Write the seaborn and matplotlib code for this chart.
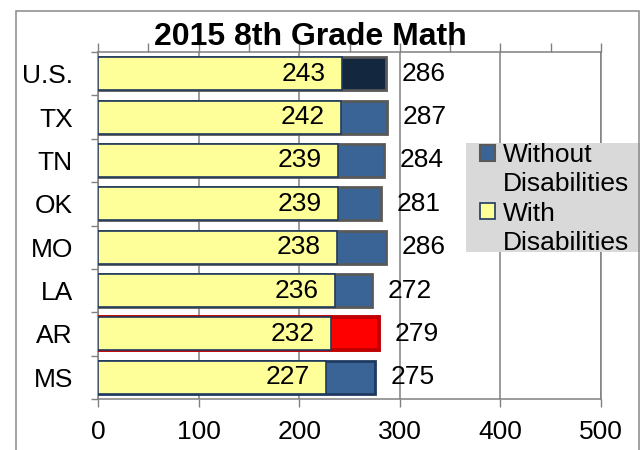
import matplotlib

matplotlib.use("Agg")
import matplotlib.pyplot as plt
import numpy as np
import pandas as pd
import seaborn as sns
from matplotlib.patches import Patch, Rectangle

states = ["U.S.", "TX", "TN", "OK", "MO", "LA", "AR", "MS"]
without_dis = [286, 287, 284, 281, 286, 272, 279, 275]
with_dis = [243, 242, 239, 239, 238, 236, 232, 227]

BLUE = "#3A6496"
NAVY = "#13273F"
RED = "#FF0000"
YELLOW = "#FFFF99"
GRID = "#808080"
bar_colors = {s: BLUE for s in states}
bar_colors.update({"U.S.": NAVY, "AR": RED})
edge_colors = {s: "#595959" for s in states}
edge_colors.update({"AR": "#C00000", "MS": "#1F3A60"})

sns.set_style("white")
plt.rcParams["font.family"] = ["Liberation Sans", "DejaVu Sans"]
plt.rcParams["text.color"] = "black"
plt.rcParams["xtick.labelcolor"] = "black"
plt.rcParams["ytick.labelcolor"] = "black"

data = pd.DataFrame({"state": states, "without": without_dis, "with": with_dis})

fig = plt.figure(figsize=(6.4, 4.5), dpi=100)
ax = fig.add_axes([98 / 640, 1 - 399 / 450, 503 / 640, 347 / 450])

sns.barplot(data, x="without", y="state", hue="state", palette=bar_colors,
            legend=False, width=0.76, saturation=1, ax=ax)
sns.barplot(data, x="with", y="state", color=YELLOW, width=0.76, saturation=1, ax=ax)

n = len(states)
for i, p in enumerate(ax.patches):
    if i < n:
        p.set_edgecolor(edge_colors[states[i]])
        p.set_linewidth(2.8 if states[i] == "AR" else 2.0)
    else:
        p.set_edgecolor("#1F3A60")
        p.set_linewidth(1.2)
    p.set_zorder(3 if i < n else 4)

for i, (w, t) in enumerate(zip(with_dis, without_dis)):
    ax.annotate(str(w), xy=(w, i), xytext=(-12, 0), textcoords="offset points",
                ha="right", va="center", fontsize=19, color="black", zorder=5)
    ax.annotate(str(t), xy=(t, i), xytext=(11.5, 0), textcoords="offset points",
                ha="left", va="center", fontsize=19, color="black", zorder=5)

ax.set_xlim(0, 500)
ax.set_ylim(n - 0.5, -0.5)
ax.set_xlabel("")
ax.set_ylabel("")
ax.set_xticks(np.arange(0, 501, 100))
ax.set_yticks(range(n))
ax.set_yticks(np.arange(-0.5, n, 1.0), minor=True)
ax.tick_params(axis="x", labelsize=19, direction="out", length=6, width=1,
               color=GRID, pad=9, bottom=True)
ax.tick_params(axis="y", which="major", labelsize=19, length=0, pad=18)
ax.tick_params(axis="y", which="minor", direction="out", length=5, width=1,
               color=GRID, left=True)
ax.grid(axis="x", color=GRID, linewidth=1.1, alpha=1)
ax.grid(axis="y", visible=False)
ax.set_axisbelow(True)
ax.spines["top"].set_visible(False)
for side in ["left", "bottom", "right"]:
    ax.spines[side].set_color(GRID)
    ax.spines[side].set_linewidth(1.1)

top = ax.secondary_xaxis("top")
top.set_xticks(np.arange(0, 501, 50))
top.set_xticklabels([])
top.tick_params(direction="out", length=6.5, width=1, color=GRID)
top.spines["top"].set_color(GRID)
top.spines["top"].set_linewidth(1.1)

fig.text(310 / 640, 1 - 45 / 450, "2015 8th Grade Math", ha="center",
         va="baseline", fontsize=23, fontweight="bold", color="black")

# legend background and outer chart frame
fig.patches.append(Rectangle((466 / 640, 1 - 252 / 450), 174 / 640, 109 / 450,
                             transform=fig.transFigure, facecolor="#D9D9D9",
                             edgecolor="none", zorder=2))
fig.patches.append(Rectangle((16 / 640, -0.05), 623 / 640, 1.05 - 10.5 / 450,
                             transform=fig.transFigure, facecolor="none",
                             edgecolor="#898989", linewidth=1.1, zorder=2))

blank = Patch(visible=False)
handles = [Patch(facecolor=BLUE, edgecolor="#595959", linewidth=1.5), blank,
           Patch(facecolor=YELLOW, edgecolor="#1F3A60", linewidth=1.2), blank]
labels = ["Without", "Disabilities", "With", "Disabilities"]
fig.legend(handles, labels, loc="upper left", bbox_to_anchor=(480 / 640, 1 - 143 / 450),
           frameon=False, fontsize=19, borderpad=0, borderaxespad=0,
           handlelength=0.55, handleheight=0.55, handletextpad=0.3, labelspacing=0.2)

fig.savefig("out.png", dpi=100)
